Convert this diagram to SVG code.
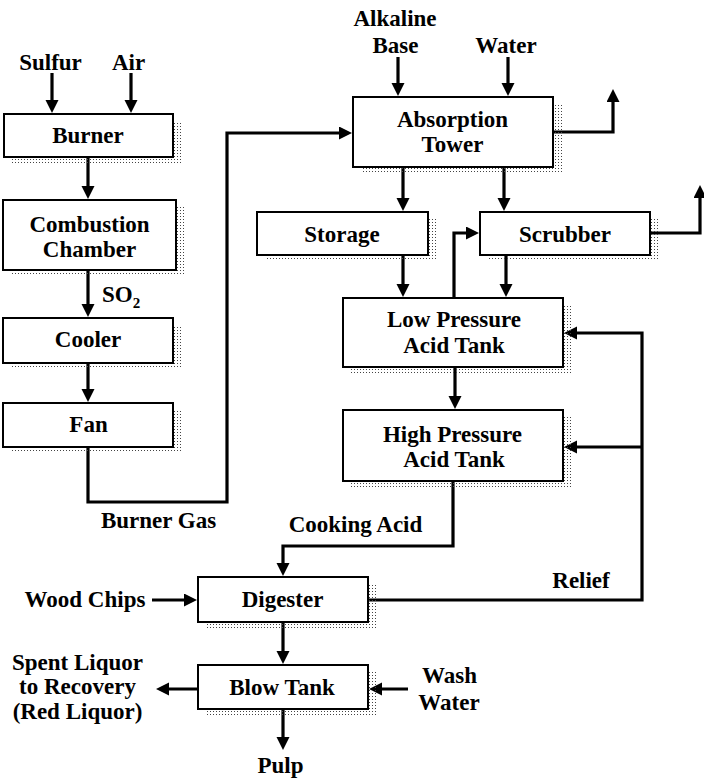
<svg xmlns="http://www.w3.org/2000/svg" width="704" height="779" viewBox="0 0 704 779">
<style>
.box{fill:#fff;stroke:#000;stroke-width:2}
.sh{fill:url(#dots)}
.c{fill:none;stroke:#000;stroke-width:3.2;marker-end:url(#ah)}
</style>
<defs>
<pattern id="dots" width="3" height="3" patternUnits="userSpaceOnUse"><rect x="0" y="0" width="1" height="1" fill="#444"/></pattern>
<marker id="ah" markerUnits="userSpaceOnUse" markerWidth="14" markerHeight="14" refX="8" refY="6.5" orient="auto"><path d="M0,0 L13,6.5 L0,13 z" fill="#000"/></marker>
</defs>
<rect width="704" height="779" fill="#fff"/>
<g id="connectors">
<path class="c" d="M52,73 V108"/>
<path class="c" d="M131,73 V108"/>
<path class="c" d="M88,157 V194"/>
<path class="c" d="M88,270 V312"/>
<path class="c" d="M88,363 V397"/>
<path class="c" d="M88,447 V502 H227 V133 H347"/>
<path class="c" d="M398,57 V91"/>
<path class="c" d="M508,57 V91"/>
<path class="c" d="M553,132 H613 V94"/>
<path class="c" d="M403,167 V206"/>
<path class="c" d="M504,167 V206"/>
<path class="c" d="M650,233 H700 V190"/>
<path class="c" d="M403,255 V292"/>
<path class="c" d="M506,255 V292"/>
<path class="c" d="M454,298 V233 H474"/>
<path class="c" d="M455,367 V404"/>
<path class="c" d="M453,481 V546 H283 V571"/>
<path class="c" d="M152,600 H192"/>
<path class="c" d="M368,600 H642 V333 H569"/>
<path class="c" d="M642,447 H569"/>
<path class="c" d="M283,622 V659"/>
<path class="c" d="M198,689 H161"/>
<path class="c" d="M408,689 H374"/>
<path class="c" d="M283,709 V745"/>
</g>
<g font-family="Liberation Serif, Times New Roman, serif" font-weight="bold" font-size="23" text-anchor="middle" fill="#000">
<g id="burner"><rect class="sh" x="12" y="121" width="170" height="42"/><rect class="box" x="4" y="114" width="169" height="43"/><text x="88" y="143">Burner</text></g>
<g id="combustion"><rect class="sh" x="11" y="207" width="174" height="69"/><rect class="box" x="3" y="200" width="173" height="70"/><text x="89.5" y="232">Combustion</text><text x="89.5" y="257">Chamber</text></g>
<g id="cooler"><rect class="sh" x="11" y="325" width="171" height="44"/><rect class="box" x="3" y="318" width="170" height="45"/><text x="88" y="347">Cooler</text></g>
<g id="fan"><rect class="sh" x="11" y="410" width="171" height="43"/><rect class="box" x="3" y="403" width="170" height="44"/><text x="88.5" y="432">Fan</text></g>
<g id="absorption"><rect class="sh" x="361" y="104" width="201" height="69"/><rect class="box" x="353" y="97" width="200" height="70"/><text x="452.5" y="127">Absorption</text><text x="452.5" y="152">Tower</text></g>
<g id="storage"><rect class="sh" x="265" y="219" width="172" height="42"/><rect class="box" x="257" y="212" width="171" height="43"/><text x="342" y="242">Storage</text></g>
<g id="scrubber"><rect class="sh" x="488" y="219" width="171" height="42"/><rect class="box" x="480" y="212" width="170" height="43"/><text x="565" y="242">Scrubber</text></g>
<g id="lp-tank"><rect class="sh" x="351" y="305" width="221" height="68"/><rect class="box" x="343" y="298" width="220" height="69"/><text x="454" y="327">Low Pressure</text><text x="454" y="353">Acid Tank</text></g>
<g id="hp-tank"><rect class="sh" x="351" y="417" width="221" height="70"/><rect class="box" x="343" y="410" width="220" height="71"/><text x="452.5" y="442">High Pressure</text><text x="454" y="467">Acid Tank</text></g>
<g id="digester"><rect class="sh" x="206" y="584" width="171" height="44"/><rect class="box" x="198" y="577" width="170" height="45"/><text x="282.5" y="607">Digester</text></g>
<g id="blow-tank"><rect class="sh" x="206" y="672" width="171" height="43"/><rect class="box" x="198" y="665" width="170" height="44"/><text x="282" y="695">Blow Tank</text></g>
<g id="labels">
<text x="50.5" y="70">Sulfur</text>
<text x="128.5" y="70">Air</text>
<text x="102" y="302" text-anchor="start">SO<tspan font-size="15" dy="6">2</tspan></text>
<text x="395" y="26">Alkaline</text>
<text x="395.5" y="53">Base</text>
<text x="506" y="53">Water</text>
<text x="158.5" y="528">Burner Gas</text>
<text x="355.5" y="532">Cooking Acid</text>
<text x="85" y="607">Wood Chips</text>
<text x="581" y="588">Relief</text>
<text x="77.5" y="670">Spent Liquor</text>
<text x="77.5" y="694">to Recovery</text>
<text x="77.5" y="719">(Red Liquor)</text>
<text x="449.5" y="683">Wash</text>
<text x="449" y="710">Water</text>
<text x="280.5" y="773">Pulp</text>
</g>
</g>
</svg>
